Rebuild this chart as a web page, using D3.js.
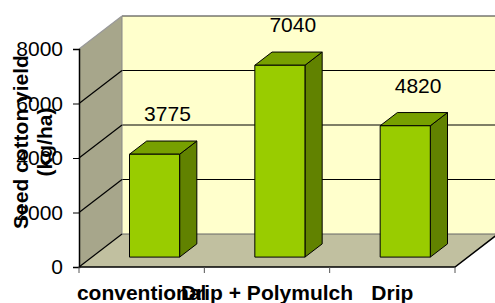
<!DOCTYPE html>
<html>
<head>
<meta charset="utf-8">
<script src="https://cdn.jsdelivr.net/npm/d3@7"></script>
<style>
  body { margin: 0; background: #fff; }
  svg text { font-family: "Liberation Sans", Arial, sans-serif; }
</style>
</head>
<body>
<div class="chart"></div>
<script>
// data
const categories = ["conventional", "Drip + Polymulch", "Drip"];
const yields = [3775, 7040, 4820];
const yTicks = [0, 2000, 4000, 6000, 8000];

const width = 495, height = 303;
const plotL = 79, plotR = 455, plotT = 49, plotB = 267;
const depthX = 43, depthY = -33; // 3d wall offset
const fontSize = 21;

const svg = d3.select(".chart").append("svg")
  .attr("width", width)
  .attr("height", height);

const x = d3.scaleBand().domain(categories).range([plotL, plotR]).padding(0);
const y = d3.scaleLinear().domain([0, 8000]).range([plotB, plotT]);

// project a point back into the box, d from 0 (front) to 1 (back wall)
const proj = (px, py, d) => [px + d * depthX, py + d * depthY];
const pts = arr => arr.map(p => p.join(",")).join(" ");

// left side wall
svg.append("polygon")
  .attr("points", pts([proj(plotL, plotB, 0), proj(plotL, plotT, 0), proj(plotL, plotT, 1), proj(plotL, plotB, 1)]))
  .attr("fill", "#a7a68b");

// back wall
svg.append("polygon")
  .attr("points", pts([proj(plotL, plotB, 1), proj(plotL, plotT, 1), proj(plotR, plotT, 1), proj(plotR, plotB, 1)]))
  .attr("fill", "#ffffcc");

// floor
svg.append("polygon")
  .attr("points", pts([proj(plotL, plotB, 0), proj(plotR, plotB, 0), proj(plotR, plotB, 1), proj(plotL, plotB, 1)]))
  .attr("fill", "#c1c0a0");

// gridlines on the back wall
svg.append("g").selectAll("line")
  .data(yTicks.slice(1))
  .join("line")
  .attr("x1", proj(plotL, 0, 1)[0])
  .attr("x2", proj(plotR, 0, 1)[0])
  .attr("y1", d => proj(0, y(d), 1)[1])
  .attr("y2", d => proj(0, y(d), 1)[1])
  .attr("stroke", d => d === 8000 ? "#333" : "#000")
  .attr("stroke-width", 1.2);

// floor back edge and back wall left edge
svg.append("line")
  .attr("x1", proj(plotL, plotB, 1)[0]).attr("y1", proj(plotL, plotB, 1)[1])
  .attr("x2", proj(plotR, plotB, 1)[0]).attr("y2", proj(plotR, plotB, 1)[1])
  .attr("stroke", "#666");
svg.append("line")
  .attr("x1", proj(plotL, plotT, 1)[0]).attr("y1", proj(plotL, plotT, 1)[1])
  .attr("x2", proj(plotL, plotB, 1)[0]).attr("y2", proj(plotL, plotB, 1)[1])
  .attr("stroke", "#888");

// diagonals on the side wall
svg.append("g").selectAll("line")
  .data(yTicks)
  .join("line")
  .attr("x1", plotL)
  .attr("y1", d => y(d))
  .attr("x2", d => proj(plotL, y(d), 1)[0])
  .attr("y2", d => proj(plotL, y(d), 1)[1])
  .attr("stroke", d => d === 8000 ? "#999" : "#000")
  .attr("stroke-width", 1.2);

// floor front and right edges
svg.append("polyline")
  .attr("points", pts([proj(plotL, plotB, 0), proj(plotR, plotB, 0), proj(plotR, plotB, 1)]))
  .attr("fill", "none")
  .attr("stroke", "#000")
  .attr("stroke-width", 1.5);

// bars
const barW = x.bandwidth() * 0.4;
const d0 = 0.3, d1 = 0.7;
const bars = svg.append("g").selectAll("g")
  .data(categories.map((c, i) => ({ c, v: yields[i] })))
  .join("g");

bars.each(function (d) {
  const g = d3.select(this);
  const x0 = x(d.c) + (x.bandwidth() - barW) / 2;
  const x1 = x0 + barW;
  const yt = y(d.v), yb = y(0);
  // side
  g.append("polygon")
    .attr("points", pts([proj(x1, yb, d0), proj(x1, yt, d0), proj(x1, yt, d1), proj(x1, yb, d1)]))
    .attr("fill", "#618200").attr("stroke", "#000").attr("stroke-linejoin", "round");
  // top
  g.append("polygon")
    .attr("points", pts([proj(x0, yt, d0), proj(x1, yt, d0), proj(x1, yt, d1), proj(x0, yt, d1)]))
    .attr("fill", "#77a000").attr("stroke", "#000").attr("stroke-linejoin", "round");
  // front
  g.append("polygon")
    .attr("points", pts([proj(x0, yb, d0), proj(x1, yb, d0), proj(x1, yt, d0), proj(x0, yt, d0)]))
    .attr("fill", "#99cc00").attr("stroke", "#000").attr("stroke-linejoin", "round");
});

// value labels
bars.append("text")
  .attr("x", d => proj(x(d.c) + x.bandwidth() / 2, 0, 0.6)[0])
  .attr("y", d => y(d.v) - 43)
  .attr("text-anchor", "middle")
  .attr("font-size", fontSize)
  .attr("fill", "#000")
  .text(d => d.v);

// y axis
const yAxis = svg.append("g")
  .attr("transform", `translate(${plotL},0)`)
  .call(d3.axisLeft(y).tickValues(yTicks).tickSize(6).tickPadding(10).tickFormat(d3.format("d")));
yAxis.select(".domain").attr("stroke", "#000").attr("stroke-width", 1.5);
yAxis.selectAll(".tick line").attr("stroke", "#000");
yAxis.selectAll("text").attr("font-size", fontSize).attr("fill", "#000")
  .style("font-family", "'Liberation Sans', Arial, sans-serif");

// x axis tick marks at band boundaries
const bounds = categories.map(c => x(c)).concat([plotR]);
svg.append("g").selectAll("line")
  .data(bounds)
  .join("line")
  .attr("x1", d => d).attr("x2", d => d)
  .attr("y1", plotB).attr("y2", plotB + 6)
  .attr("stroke", "#555");

// category labels
svg.append("g").selectAll("text")
  .data(categories)
  .join("text")
  .attr("x", d => x(d) + x.bandwidth() / 2)
  .attr("y", 300)
  .attr("text-anchor", "middle")
  .attr("font-size", fontSize)
  .attr("font-weight", "bold")
  .attr("fill", "#000")
  .text(d => d);

// y axis title
const title = svg.append("text")
  .attr("transform", "translate(28,142) rotate(-90)")
  .attr("text-anchor", "middle")
  .attr("font-size", fontSize)
  .attr("font-weight", "bold")
  .attr("fill", "#000");
title.append("tspan").attr("x", 0).attr("dy", 0).text("Seed cotton yield");
title.append("tspan").attr("x", 0).attr("dy", 24).text("(kg/ha)");
</script>
</body>
</html>
